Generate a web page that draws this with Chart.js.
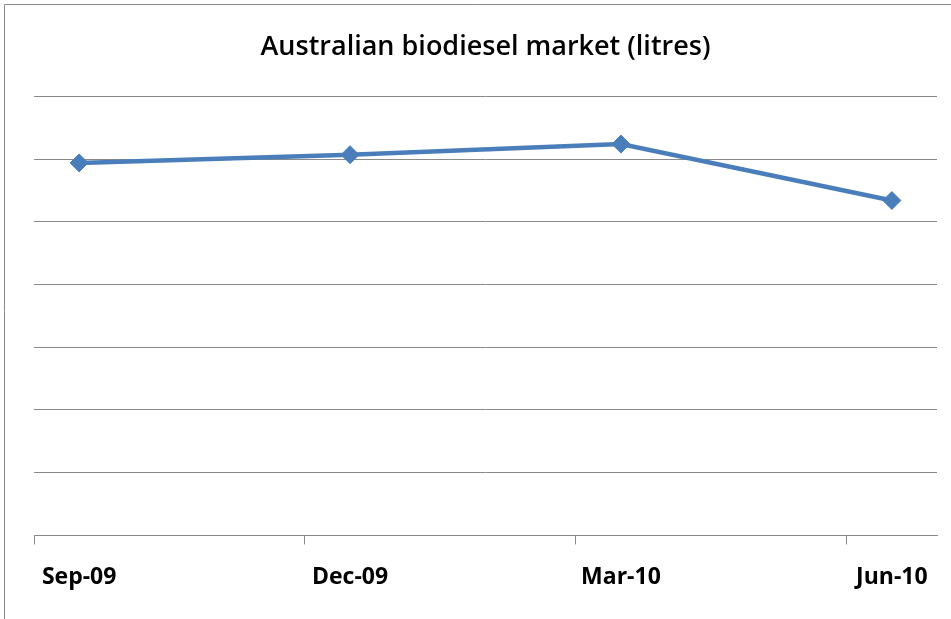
<!DOCTYPE html>
<html>
<head>
<meta charset="utf-8">
<title>Australian biodiesel market</title>
<script src="https://cdn.jsdelivr.net/npm/chart.js@4/dist/chart.umd.min.js"></script>
<style>
  html, body { margin: 0; padding: 0; background: #ffffff; }
  canvas { display: block; }
</style>
</head>
<body>
<canvas id="chart" width="951" height="619"></canvas>
<script>
// quarterly readings (million litres), plotted on a monthly date axis
const months = ['Sep-09', 'Oct-09', 'Nov-09', 'Dec-09', 'Jan-10', 'Feb-10',
                'Mar-10', 'Apr-10', 'May-10', 'Jun-10'];
const quarters = ['Sep-09', 'Dec-09', 'Mar-10', 'Jun-10'];
const litres = [59.4, 60.7, 62.4, 53.4];

const yMax = 70;
const yStep = 10;

// one slot per month, only quarter months carry a value
const series = months.map(m => {
  const i = quarters.indexOf(m);
  return i >= 0 ? litres[i] : null;
});

const GRID = '#8a8a8a';
const FONT = "'Open Sans', 'DejaVu Sans', sans-serif";

// thin outer frame, cut off at the right and bottom
const framePlugin = {
  id: 'frame',
  beforeDraw(chart) {
    const { ctx, width, height } = chart;
    ctx.save();
    ctx.fillStyle = '#ffffff';
    ctx.fillRect(0, 0, width, height);
    ctx.strokeStyle = GRID;
    ctx.lineWidth = 1;
    ctx.beginPath();
    ctx.moveTo(4.5, height);
    ctx.lineTo(4.5, 4.5);
    ctx.lineTo(width, 4.5);
    ctx.stroke();
    ctx.restore();
  }
};

new Chart(document.getElementById('chart'), {
  type: 'line',
  data: {
    labels: months,
    datasets: [{
      label: 'Litres',
      data: series,
      spanGaps: true,
      borderColor: '#4a7ebb',
      backgroundColor: '#4a7ebb',
      borderWidth: 4.5,
      tension: 0,
      pointStyle: 'rectRot',
      pointRadius: 9,
      pointBorderWidth: 1,
      pointBorderColor: '#4a7ebb',
      pointBackgroundColor: '#4a7ebb'
    }]
  },
  options: {
    responsive: false,
    animation: false,
    layout: { padding: { left: 34, right: 14, top: 0, bottom: 9 } },
    plugins: {
      legend: { display: false },
      tooltip: { enabled: false },
      title: {
        display: true,
        text: 'Australian biodiesel market (litres)',
        color: '#000000',
        font: { family: FONT, size: 27, weight: '600' },
        padding: { top: 31, bottom: 33 }
      }
    },
    scales: {
      x: {
        offset: true,
        grid: {
          offset: true,
          drawOnChartArea: false,
          drawTicks: true,
          tickLength: 9,
          color: ctx => (ctx.index % 3 === 0 ? GRID : 'rgba(0,0,0,0)')
        },
        border: { display: true, color: GRID, width: 1 },
        ticks: {
          autoSkip: false,
          maxRotation: 0,
          padding: 19,
          color: '#000000',
          font: { family: FONT, size: 23, weight: 'bold' },
          callback: function (value, index) {
            return index % 3 === 0 ? this.getLabelForValue(value) : '';
          }
        }
      },
      y: {
        min: 0,
        max: yMax,
        ticks: { stepSize: yStep, display: false },
        border: { display: false },
        grid: { color: GRID, lineWidth: 1, drawTicks: false }
      }
    }
  },
  plugins: [framePlugin]
});
</script>
</body>
</html>
